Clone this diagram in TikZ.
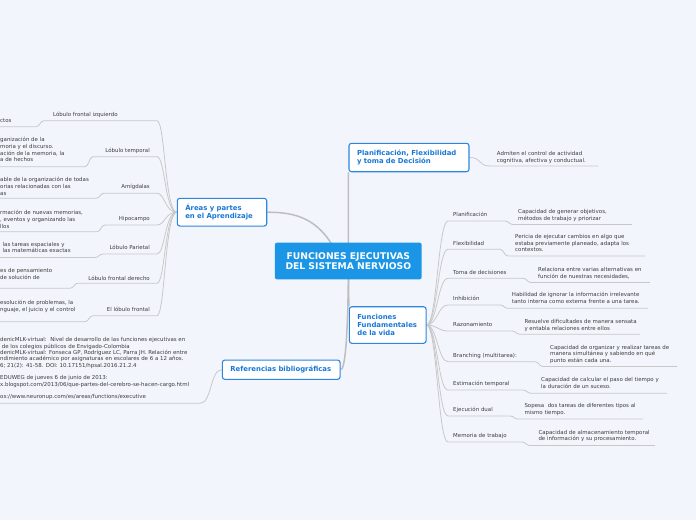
\documentclass[tikz,border=0pt]{standalone}
\usepackage{fontspec}
\setmainfont{DejaVu Sans}
\definecolor{bgc}{RGB}{242,245,252}
\definecolor{cblue}{RGB}{27,150,230}
\definecolor{tblue}{RGB}{25,120,215}
\definecolor{bblue}{RGB}{45,135,225}
\definecolor{lgray}{RGB}{200,200,200}
\definecolor{trgray}{RGB}{190,190,190}
\definecolor{tgray}{RGB}{60,60,60}
\pgfdeclarelayer{back}\pgfdeclarelayer{bg}\pgfsetlayers{back,bg,main}
\newcommand\mlines[1]{\vtop{\halign{##\hfil\cr#1\crcr}}}
% right groups: id, label, label y, label-underline end x, detail underline y, detail underline end x, detail text x, detail first line y, lines
\newcommand\grpR[9]{%
 \node[lbl,anchor=base west] (#1) at (453,#3+1.8) {#2};
 \node[det,anchor=base west] (#1t) at (#7,#8+1.8) {\mlines{#9}};
 \coordinate (#1a) at (448,#3+6);
 \coordinate (#1b) at (#4,#3+6);
 \coordinate (#1c) at (#4+8,#5);
 \coordinate (#1d) at (#6,#5);
 \begin{pgfonlayer}{bg}
 \draw[ul] (fun.east) .. controls (437,325) and (438,#3+6) .. (#1a) -- (#1b) .. controls (#4+4,#3+6) and (#4+4,#5) .. (#1c) -- (#1d);
 \end{pgfonlayer}}
% left groups: id, S-end x, label underline y, detail underline y, detail underline right x, detail first line y, lines, detail x
\newcommand\grpL[8]{%
 \node[det,anchor=base west] (#1t) at (#8,#6+1.8) {\mlines{#7}};
 \coordinate (#1a) at (157,#3);
 \coordinate (#1b) at (#2,#3);
 \coordinate (#1c) at (#5,#4);
 \coordinate (#1d) at (0,#4);
 \begin{pgfonlayer}{bg}
 \draw[ul] (are.west) .. controls (165,212.2) and (165,#3) .. (#1a) -- (#1b) .. controls (#2-4,#3) and (#2-4,#4) .. (#1c) -- (#1d);
 \end{pgfonlayer}}
\begin{document}
\begin{tikzpicture}[x=1pt,y=-1pt,
 lbl/.style={inner sep=0pt,text=tgray,font=\fontsize{5.45}{6.6}\selectfont},
 det/.style={inner sep=0pt,text=tgray,font=\fontsize{5.45}{6.6}\selectfont},
 ul/.style={draw=lgray,line width=0.8pt},
 trunk/.style={draw=trgray,line width=1.5pt},
 topic/.style={draw=bblue,fill=white,rounded corners=2.5pt,line width=1.1pt,text=tblue,
   font=\bfseries\fontsize{6.9}{8.4}\selectfont,align=left,inner xsep=8pt,inner ysep=0pt},
 central/.style={fill=cblue,rounded corners=2pt,text=white,
   font=\bfseries\fontsize{9.2}{10.7}\selectfont,align=center,inner sep=0pt}]
\useasboundingbox (0,0) rectangle (696,520);
\begin{pgfonlayer}{back}
\fill[bgc] (0,0) rectangle (696,520);
\end{pgfonlayer}

% main nodes
\node[central,minimum width=146.7pt,minimum height=36.6pt] (c) at (348.3,261) {FUNCIONES EJECUTIVAS\\DEL SISTEMA NERVIOSO};
\node[topic,minimum width=120pt,minimum height=28.4pt,text width=104pt] (plan) at (409,157.5) {Planificación, Flexibilidad\\y toma de Decisión};
\node[topic,minimum width=89.4pt,minimum height=27.7pt,text width=73.4pt] (are) at (222,212.2) {Áreas y partes\\en el Aprendizaje};
\node[topic,minimum width=76.7pt,minimum height=36.6pt,text width=60.7pt] (fun) at (387.7,325) {Funciones\\Fundamentales\\de la vida};
\node[topic,minimum width=117.7pt,minimum height=19.3pt,text width=101.7pt] (ref) at (281.2,369.7) {Referencias bibliográficas};

\coordinate (c1) at (348.5,261);
\coordinate (c2) at (335,250);
\begin{pgfonlayer}{bg}
\draw[trunk] (c1) -- (plan.south west);
\draw[trunk] (c1) -- (fun.north west);
\draw[trunk] (c1) .. controls (348,340) and (345,369.7) .. (ref.east);
\draw[trunk] (c2) .. controls (318,218) and (295,212.2) .. (are.east);
\end{pgfonlayer}

% Planificacion detail
\node[det,anchor=base west] (plant) at (496.7,155.8) {\mlines{Admiten el control de actividad\cr cognitiva, afectiva y conductual.}};
\coordinate (pla) at (490,166);
\coordinate (plb) at (598,166);
\begin{pgfonlayer}{bg}
\draw[ul] (plan.east) .. controls (482,157.5) and (478,166) .. (pla) -- (plb);
\end{pgfonlayer}

% right groups
\grpR{r1}{Planificación}{215}{505}{224.5}{632}{518}{211.7}{Capacidad de generar objetivos,\cr métodos de trabajo y priorizar}
\grpR{r2}{Flexibilidad}{243.3}{500}{256}{645}{515}{236.7}{Pericia de ejecutar cambios en algo que\cr estaba previamente planeado, adapta los\cr contextos.}
\grpR{r3}{Toma de decisiones}{272.3}{523}{282.5}{650}{538}{270}{Relaciona entre varias alternativas en\cr función de nuestras necesidades,}
\grpR{r4}{Inhibición}{299}{500}{308.3}{648}{511.7}{295}{Habilidad de ignorar la información irrelevante\cr tanto interna como externa frente a una tarea.}
\grpR{r5}{Razonamiento}{325}{512}{334.3}{640}{524.3}{321.7}{Resuelve dificultades de manera sensata\cr y entabla relaciones entre ellos}
\grpR{r6}{Branching (multitarea):}{355.7}{535}{366.5}{677}{550}{347.3}{Capacidad de organizar y realizar tareas de\cr manera simultánea y sabiendo en qué\cr punto están cada una.}
\grpR{r7}{Estimación temporal}{384}{523}{393.3}{667}{541}{380}{Capacidad de calcular el paso del tiempo y\cr la duración de un suceso.}
\grpR{r8}{Ejecución dual}{410}{510}{419}{643}{524.3}{406}{Sopesa\ \ dos tareas de diferentes tipos al\cr mismo tiempo.}
\grpR{r9}{Memoria de trabajo}{436}{522}{445.5}{655}{538.3}{432.3}{Capacidad de almacenamiento temporal\cr de información y su procesamiento.}

% left labels
\node[lbl,anchor=base west] (l1) at (53,116.8) {Lóbulo frontal izquierdo};
\node[lbl,anchor=base east] (l2) at (150,152.8) {Lóbulo temporal};
\node[lbl,anchor=base east] (l3) at (150,188.5) {Amígdalas};
\node[lbl,anchor=base east] (l4) at (150,220.8) {Hipocampo};
\node[lbl,anchor=base east] (l5) at (150,249.8) {Lóbulo Parietal};
\node[lbl,anchor=base east] (l6) at (150,280.1) {Lóbulo frontal derecho};
\node[lbl,anchor=base east] (l7) at (150,311.1) {El lóbulo frontal};

% left groups
\grpL{l1}{44}{120.7}{126.7}{36}{120.7}{ctos}{0}
\grpL{l2}{93}{156.7}{166.7}{85}{140}{ganización de la\cr moria y el discurso.\cr ación de la memoria, la\cr a de hechos}{0}
\grpL{l3}{104}{193.3}{198.3}{96}{180}{able de la organización de todas\cr orias relacionadas con las\cr as}{0}
\grpL{l4}{105}{225}{231.7}{97}{213}{rmación de nuevas memorias,\cr , eventos y organizando las\cr llos}{0}
\grpL{l5}{103}{254}{257.5}{95}{244.3}{las tareas espaciales y\cr las matemáticas exactas}{2.5}
\grpL{l6}{78}{283.3}{288.3}{70}{270.7}{es de pensamiento\cr de solución de}{0}
\grpL{l7}{93}{315.7}{321.7}{85}{302.7}{esolución de problemas, la\cr nguaje, el juicio y el control}{0}

% references
\node[det,anchor=base west,font=\fontsize{5.45}{6.35}\selectfont] (reft) at (0,341.8) {\mlines{denicMLK-virtual:\ \ Nivel de desarrollo de las funciones ejecutivas en\cr \ de los colegios públicos de Envigado-Colombia\cr denicMLK-virtual: Fonseca GP, Rodríguez LC, Parra JH. Relación entre\cr ndimiento académico por asignaturas en escolares de 6 a 12 años.\cr 6; 21(2): 41-58. DOI: 10.17151/hpsal.2016.21.2.4\cr \cr EDUWEG de jueves 6 de junio de 2013:\cr x.blogspot.com/2013/06/que-partes-del-cerebro-se-hacen-cargo.html\cr \cr os://www.neuronup.com/es/areas/functions/executive}};
\coordinate (rfa) at (200,403.3);
\coordinate (rfb) at (0,403.3);
\begin{pgfonlayer}{bg}
\draw[ul] (ref.west) .. controls (210,369.7) and (212,403.3) .. (rfa) -- (rfb);
\end{pgfonlayer}
\end{tikzpicture}
\end{document}
